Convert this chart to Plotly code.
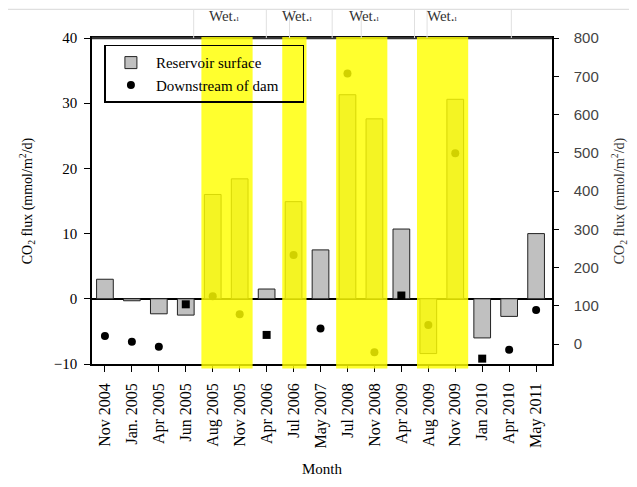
import plotly.graph_objects as go

months = ["Nov 2004", "Jan. 2005", "Apr 2005", "Jun 2005", "Aug 2005", "Nov 2005",
          "Apr 2006", "Jul 2006", "May 2007", "Jul 2008", "Nov 2008", "Apr 2009",
          "Aug 2009", "Nov 2009", "Jan 2010", "Apr 2010", "May 2011"]
reservoir_surface = [3.0, -0.3, -2.3, -2.5, 16.0, 18.4, 1.5, 14.9, 7.5, 31.3, 27.6,
                     10.7, -8.4, 30.6, -6.0, -2.7, 10.0]
downstream_of_dam = [21, 6, -7, 104, 125, 78, 24, 233, 41, 707, -21, 127, 50, 499,
                     -38, -15, 89]
downstream_symbols = ["circle", "circle", "circle", "square", "circle", "circle",
                      "square", "circle", "circle", "circle", "circle", "square",
                      "circle", "circle", "square", "circle", "circle"]
wet_periods = [("Aug 2005", "Nov 2005"), ("Jul 2006", "Jul 2006"),
               ("Jul 2008", "Nov 2008"), ("Aug 2009", "Nov 2009")]
left_ticks = [-10, 0, 10, 20, 30, 40]
right_ticks = [0, 100, 200, 300, 400, 500, 600, 700, 800]

SERIF = "Liberation Serif, Times New Roman, serif"
PAD = "\u00a0" * 5  # widens the legend box like the reference

fig = go.Figure()
fig.add_trace(go.Bar(
    x=months, y=reservoir_surface, name="Reservoir surface", width=0.62,
    marker=dict(color="#c0c0c0", line=dict(color="#222222", width=1)),
    yaxis="y"))
fig.add_trace(go.Scatter(
    x=months, y=downstream_of_dam, name="Downstream of dam" + PAD, mode="markers",
    marker=dict(color="black", size=8, symbol=downstream_symbols),
    yaxis="y2"))

shapes = []
# heavier top frame line (covered by the bands)
shapes.append(dict(type="line", xref="paper", yref="paper", x0=0, x1=1, y0=1, y1=1,
                   line=dict(color="#333333", width=2.5), layer="above"))
# yellow wet-season bands
for a, b in wet_periods:
    i0, i1 = months.index(a), months.index(b)
    shapes.append(dict(type="rect", xref="x", yref="paper", x0=i0 - 0.42, x1=i1 + 0.48,
                       y0=-0.014, y1=1.003, fillcolor="rgba(255,255,0,0.82)",
                       line=dict(width=0), layer="above"))
# table-like strip above the plot
shapes.append(dict(type="line", xref="paper", yref="paper", x0=-0.2, x1=1.2,
                   y0=1.088, y1=1.088, line=dict(color="#d8d8d8", width=1)))
for px in [197, 272, 296, 340, 370, 425, 438, 525]:
    xp = (px - 92) / 475
    shapes.append(dict(type="line", xref="paper", yref="paper", x0=xp, x1=xp,
                       y0=1.0, y1=1.088, line=dict(color="#e0e0e0", width=1)))

annotations = []
for px in [229, 304, 373, 454]:
    annotations.append(dict(xref="paper", yref="paper", x=(px - 92) / 475, y=1.067,
                            xanchor="center", yanchor="middle",
                            text="Wet.<span style='font-size:8px'>ı</span>",
                            showarrow=False, font=dict(family=SERIF, size=15, color="#333")))

fig.update_layout(
    width=629, height=479,
    margin=dict(l=84, r=70, t=30, b=109),
    paper_bgcolor="white", plot_bgcolor="white",
    showlegend=True,
    legend=dict(x=0.027, y=0.979, xanchor="left", yanchor="top",
                bgcolor="rgba(0,0,0,0)", bordercolor="black", borderwidth=1.5,
                font=dict(family=SERIF, size=15, color="black"), itemwidth=40,
                tracegroupgap=0),
    shapes=shapes, annotations=annotations,
    xaxis=dict(type="category", range=[-0.48, 16.59], tickangle=-90,
               showline=True, linecolor="black", linewidth=1.5, mirror=True,
               ticks="outside", ticklen=6, tickcolor="black", showgrid=False,
               ticklabelstandoff=5,
               tickfont=dict(family=SERIF, size=16, color="black"),
               title=dict(text="Month", font=dict(family=SERIF, size=15, color="black"),
                          standoff=16)),
    yaxis=dict(range=[-10, 40], tickvals=left_ticks, showline=True, linecolor="black",
               linewidth=1.5, ticks="outside", ticklen=6, tickcolor="black",
               showgrid=False, zeroline=True, zerolinecolor="black", zerolinewidth=1.5,
               ticklabelstandoff=4,
               tickfont=dict(family=SERIF, size=15, color="black"),
               title=dict(text="CO<sub>2</sub> flux (mmol/m<sup>2</sup>/d)",
                          font=dict(family=SERIF, size=14, color="black"), standoff=18)),
    yaxis2=dict(range=[-52, 800], tickvals=right_ticks, overlaying="y", side="right",
                showline=True, linecolor="black", linewidth=1.5, ticks="outside",
                ticklen=5, tickcolor="black", showgrid=False, zeroline=False,
                ticklabelstandoff=12,
                tickfont=dict(family="Liberation Sans, Arial, sans-serif", size=15,
                              color="#444"),
                title=dict(text="CO<sub>2</sub> flux (mmol/m<sup>2</sup>/d)",
                           font=dict(family=SERIF, size=14, color="#333"), standoff=16)),
)

fig.write_html("out.html")
